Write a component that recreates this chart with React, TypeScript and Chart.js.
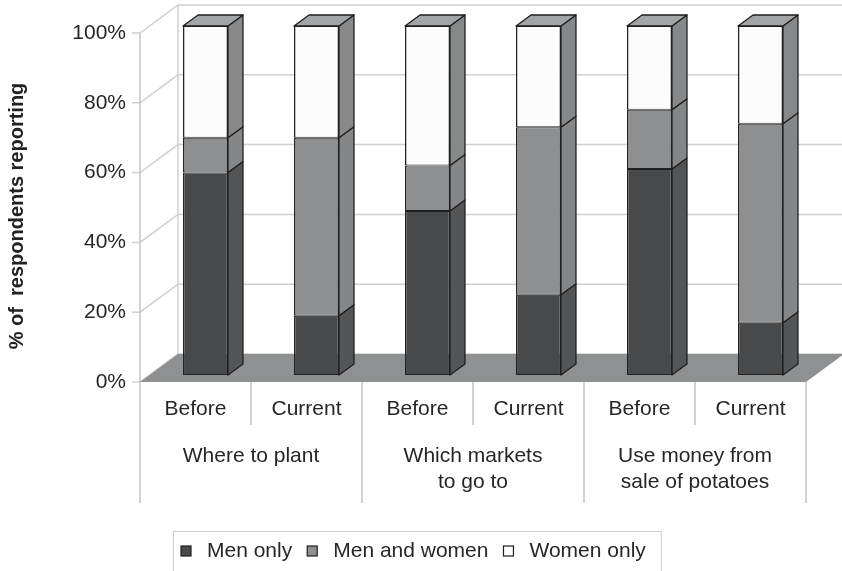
import { useEffect, useRef } from 'react';
import { Chart, registerables } from 'chart.js';

Chart.register(...registerables);

// Survey results: who decides, before and now
const categories = ['Before', 'Current', 'Before', 'Current', 'Before', 'Current'];
const topics = [['Where to plant'], ['Which markets', 'to go to'], ['Use money from', 'sale of potatoes']];
const seriesNames = ['Men only', 'Men and women', 'Women only'];
const menOnly = [58, 17, 47, 23, 59, 15];
const menAndWomen = [10, 51, 13, 48, 17, 57];
const womenOnly = [32, 32, 40, 29, 24, 28];
const yTicks = [0, 20, 40, 60, 80, 100];
const yTitle = '% of  respondents reporting';

const FONT = '"Liberation Sans", Arial, Helvetica, sans-serif';
const TEXT = '#262626';
const GRID = '#d0d0d0';
const OUTLINE = '#1f1f1f';
const frontColors = ['#48494b', '#8e8f91', '#fcfcfc'];
const sideColors = ['#545557', '#858688', '#87888a'];
const TOP_COLOR = '#a3a4a6';
const FLOOR_COLOR = '#8f9092';

// projection offsets of the 3D box
const WALL = { dx: 38, dy: -28 };
const BAR_SHIFT = { dx: 10, dy: -7 };
const BAR_DEPTH = { dx: 15, dy: -11 };

const scene3d = {
  id: 'scene3d',
  beforeDraw(chart: any) {
    const { ctx, chartArea: a, scales } = chart;
    const y = scales.y;
    ctx.save();
    ctx.fillStyle = '#ffffff';
    ctx.fillRect(0, 0, chart.width, chart.height);

    // side wall diagonals, back wall gridlines and front tick marks
    ctx.strokeStyle = GRID;
    ctx.lineWidth = 1.5;
    for (const v of yTicks) {
      const py = y.getPixelForValue(v);
      ctx.beginPath();
      ctx.moveTo(a.left - 8, py);
      ctx.lineTo(a.left, py);
      ctx.lineTo(a.left + WALL.dx, py + WALL.dy);
      ctx.lineTo(chart.width, py + WALL.dy);
      ctx.stroke();
    }
    // back wall left edge
    ctx.beginPath();
    ctx.moveTo(a.left + WALL.dx, a.top + WALL.dy);
    ctx.lineTo(a.left + WALL.dx, a.bottom + WALL.dy);
    ctx.stroke();
    // front vertical axis
    ctx.strokeStyle = '#c4c4c4';
    ctx.beginPath();
    ctx.moveTo(a.left, a.top);
    ctx.lineTo(a.left, a.bottom);
    ctx.stroke();

    // floor
    ctx.fillStyle = FLOOR_COLOR;
    ctx.beginPath();
    ctx.moveTo(a.left, a.bottom);
    ctx.lineTo(a.right, a.bottom);
    ctx.lineTo(a.right + WALL.dx, a.bottom + WALL.dy);
    ctx.lineTo(a.left + WALL.dx, a.bottom + WALL.dy);
    ctx.closePath();
    ctx.fill();
    ctx.restore();
  },
  beforeDatasetsDraw(chart: any) {
    chart.ctx.save();
    chart.ctx.translate(BAR_SHIFT.dx, BAR_SHIFT.dy);
  },
  afterDatasetsDraw(chart: any) {
    const ctx = chart.ctx;
    ctx.lineWidth = 1.3;
    ctx.lineJoin = 'round';
    ctx.strokeStyle = OUTLINE;
    const last = chart.data.datasets.length - 1;
    chart.data.datasets.forEach((_: any, d: number) => {
      const meta = chart.getDatasetMeta(d);
      meta.data.forEach((bar: any) => {
        const { x, y: top, base, width } = bar.getProps(['x', 'y', 'base', 'width'], true);
        const left = x - width / 2;
        const right = x + width / 2;
        // side face
        ctx.beginPath();
        ctx.moveTo(right, top);
        ctx.lineTo(right + BAR_DEPTH.dx, top + BAR_DEPTH.dy);
        ctx.lineTo(right + BAR_DEPTH.dx, base + BAR_DEPTH.dy);
        ctx.lineTo(right, base);
        ctx.closePath();
        ctx.fillStyle = sideColors[d];
        ctx.fill();
        ctx.stroke();
        // top face of the stack
        if (d === last) {
          ctx.beginPath();
          ctx.moveTo(left, top);
          ctx.lineTo(left + BAR_DEPTH.dx, top + BAR_DEPTH.dy);
          ctx.lineTo(right + BAR_DEPTH.dx, top + BAR_DEPTH.dy);
          ctx.lineTo(right, top);
          ctx.closePath();
          ctx.fillStyle = TOP_COLOR;
          ctx.fill();
          ctx.stroke();
        }
      });
    });
    ctx.restore();
  },
  afterDraw(chart: any) {
    const { ctx, chartArea: a, scales } = chart;
    const x = scales.x;
    const n = categories.length;
    const centers = categories.map((_, i) => x.getPixelForValue(i));
    const step = n > 1 ? centers[1] - centers[0] : a.right - a.left;
    ctx.save();

    // category dividers below the floor
    ctx.strokeStyle = '#c4c4c4';
    ctx.lineWidth = 1.5;
    for (let i = 0; i <= n; i++) {
      const bx = i === 0 ? centers[0] - step / 2 : centers[i - 1] + step / 2;
      const depth = i % 2 === 0 ? 121 : 43;
      ctx.beginPath();
      ctx.moveTo(bx, a.bottom);
      ctx.lineTo(bx, a.bottom + depth);
      ctx.stroke();
    }

    ctx.fillStyle = TEXT;
    ctx.textAlign = 'center';
    ctx.textBaseline = 'middle';
    ctx.font = `21px ${FONT}`;
    categories.forEach((c, i) => ctx.fillText(c, centers[i], a.bottom + 27));
    topics.forEach((lines, g) => {
      const cx = (centers[2 * g] + centers[2 * g + 1]) / 2;
      lines.forEach((line, k) => ctx.fillText(line, cx, a.bottom + 74 + k * 26));
    });

    // legend
    const legY = 551;
    let lx = 181;
    const boxLeft = lx - 8;
    chart.data.datasets.forEach((ds: any, d: number) => {
      ctx.fillStyle = ds.backgroundColor;
      ctx.fillRect(lx, legY - 5, 10, 10);
      ctx.strokeStyle = OUTLINE;
      ctx.lineWidth = 1.2;
      ctx.strokeRect(lx, legY - 5, 10, 10);
      ctx.fillStyle = TEXT;
      ctx.textAlign = 'left';
      ctx.fillText(seriesNames[d], lx + 26, legY);
      lx += 26 + ctx.measureText(seriesNames[d]).width + 15;
    });
    ctx.strokeStyle = '#cfcfcf';
    ctx.lineWidth = 1;
    ctx.strokeRect(boxLeft + 0.5, 531.5, lx - boxLeft, 40);

    // y axis title
    ctx.translate(17, 216);
    ctx.rotate(-Math.PI / 2);
    ctx.textAlign = 'center';
    ctx.fillStyle = '#222';
    ctx.font = `bold 20px ${FONT}`;
    ctx.fillText(yTitle, 0, 0);
    ctx.restore();
  },
};

export default function App() {
  const ref = useRef<HTMLCanvasElement | null>(null);
  useEffect(() => {
    if (!ref.current) return;
    const series = [menOnly, menAndWomen, womenOnly];
    const chart = new Chart(ref.current, {
      type: 'bar',
      data: {
        labels: categories,
        datasets: series.map((values, d) => ({
          label: seriesNames[d],
          data: values,
          backgroundColor: frontColors[d],
          borderColor: OUTLINE,
          borderWidth: { left: 1.5, right: 1.5, top: 1, bottom: 1 },
          borderSkipped: false,
          categoryPercentage: 1,
          barPercentage: 0.405,
          clip: false,
        })),
      },
      options: {
        responsive: false,
        animation: false,
        devicePixelRatio: 1,
        layout: { padding: { left: 8, right: 36, top: 33, bottom: 189 } },
        plugins: { legend: { display: false }, tooltip: { enabled: false } },
        scales: {
          x: { stacked: true, display: false },
          y: {
            stacked: true,
            min: 0,
            max: 100,
            afterFit: (s: any) => { s.width = 132; },
            grid: { display: false, drawTicks: false },
            border: { display: false },
            ticks: {
              stepSize: 20,
              padding: 14,
              color: TEXT,
              font: { family: FONT, size: 21 },
              callback: (v: any) => `${v}%`,
            },
          },
        },
      },
      plugins: [scene3d],
    });
    return () => chart.destroy();
  }, []);
  return (
    <div style={{ position: 'fixed', left: 0, top: 0, width: 842, height: 571 }}>
      <canvas ref={ref} width={842} height={571} />
    </div>
  );
}
